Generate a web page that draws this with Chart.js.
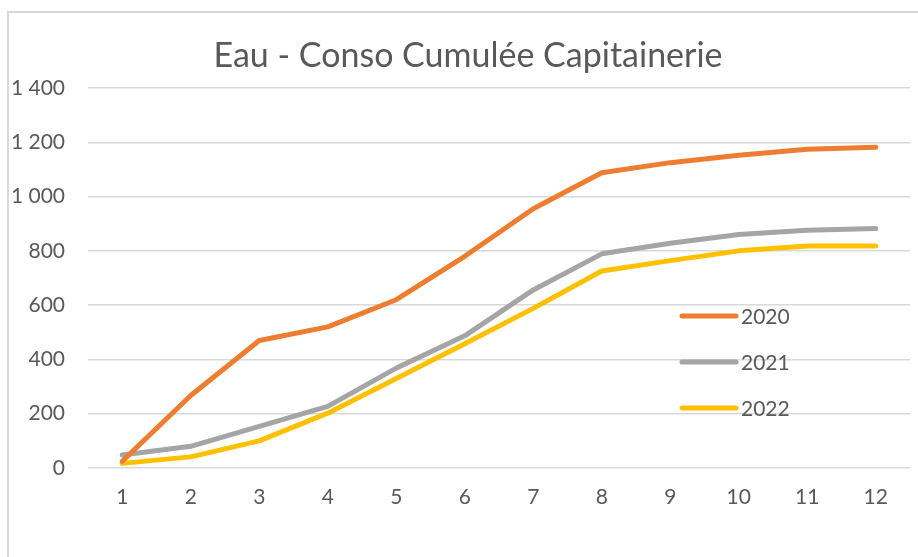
<!DOCTYPE html>
<html>
<head>
<meta charset="utf-8">
<script src="https://cdn.jsdelivr.net/npm/chart.js@4"></script>
<style>
    html, body { margin: 0; padding: 0; background: #fff; overflow: hidden; }
    #frame {
        position: absolute; left: 7px; top: 11px; width: 940px; height: 580px;
        border-left: 2px solid #d9d9d9; border-top: 2px solid #d9d9d9;
    }
    #wrap { position: absolute; left: 0; top: 0; width: 918px; height: 557px; }
</style>
</head>
<body>
<div id="frame"></div>
<div id="wrap"><canvas id="eau-chart"></canvas></div>
<script>
// Mois (1..12) et conso cumulée par année
const months = ['1', '2', '3', '4', '5', '6', '7', '8', '9', '10', '11', '12'];
const conso2020 = [25, 267, 470, 520, 620, 780, 955, 1088, 1125, 1152, 1174, 1182];
const conso2021 = [48, 80, 153, 227, 368, 487, 656, 789, 828, 860, 876, 882];
const conso2022 = [17, 41, 100, 202, 330, 458, 588, 726, 764, 800, 818, 818];
const yearLabels = ['2020', '2021', '2022'];
const yearColors = ['#ED7D31', '#A5A5A5', '#FFC000'];
const chartTitle = 'Eau - Conso Cumulée Capitainerie';

const fontFamily = 'Lato, "Liberation Sans", sans-serif';
const textColor = '#595959';

// title centred like the Excel chart (slightly right of canvas centre)
const titleAbove = {
    id: 'titleAbove',
    afterDraw(chart) {
        const ctx = chart.ctx;
        ctx.save();
        ctx.fillStyle = textColor;
        ctx.font = '34px ' + fontFamily;
        ctx.textAlign = 'center';
        ctx.textBaseline = 'middle';
        ctx.fillText(chartTitle, 468, 56);
        ctx.restore();
    }
};

// legend drawn inside the plot area, to the right
const insideLegend = {
    id: 'insideLegend',
    afterDraw(chart) {
        const ctx = chart.ctx;
        const area = chart.chartArea;
        ctx.save();
        chart.data.datasets.forEach((ds, i) => {
            const y = 316 + i * 46;
            const x0 = area.right - 228;
            ctx.strokeStyle = ds.borderColor;
            ctx.lineWidth = 5;
            ctx.lineCap = 'round';
            ctx.beginPath();
            ctx.moveTo(x0, y);
            ctx.lineTo(x0 + 54, y);
            ctx.stroke();
            ctx.fillStyle = textColor;
            ctx.font = '21px ' + fontFamily;
            ctx.textBaseline = 'middle';
            ctx.textAlign = 'left';
            ctx.fillText(ds.label, x0 + 59, y + 1);
        });
        ctx.restore();
    }
};

const ctx = document.getElementById('eau-chart').getContext('2d');
new Chart(ctx, {
    type: 'line',
    data: {
        labels: months,
        datasets: [conso2020, conso2021, conso2022].map((vals, i) => ({
            label: yearLabels[i],
            data: vals,
            borderColor: yearColors[i],
            backgroundColor: yearColors[i],
            borderWidth: 5,
            borderCapStyle: 'round',
            borderJoinStyle: 'round',
            pointRadius: 0,
            tension: 0,
            fill: false
        }))
    },
    options: {
        responsive: true,
        maintainAspectRatio: false,
        animation: false,
        layout: { padding: { top: 88, right: 8, bottom: 0, left: 0 } },
        plugins: {
            legend: { display: false },
            tooltip: { enabled: false },
            title: { display: false }
        },
        scales: {
            x: {
                offset: true,
                grid: { display: false, drawTicks: false },
                border: { display: false },
                ticks: {
                    color: textColor,
                    padding: 17,
                    font: { family: fontFamily, size: 21 }
                },
                afterFit(scale) { scale.height = 89; }
            },
            y: {
                min: 0,
                max: 1400,
                grid: { color: '#d9d9d9', lineWidth: 1.5, drawTicks: false },
                border: { display: false },
                ticks: {
                    stepSize: 200,
                    color: textColor,
                    padding: 23,
                    font: { family: fontFamily, size: 21 },
                    callback: v => v.toString().replace(/\B(?=(\d{3})+(?!\d))/g, ' ')
                },
                afterFit(scale) { scale.width = 88; }
            }
        }
    },
    plugins: [titleAbove, insideLegend]
});
</script>
</body>
</html>
